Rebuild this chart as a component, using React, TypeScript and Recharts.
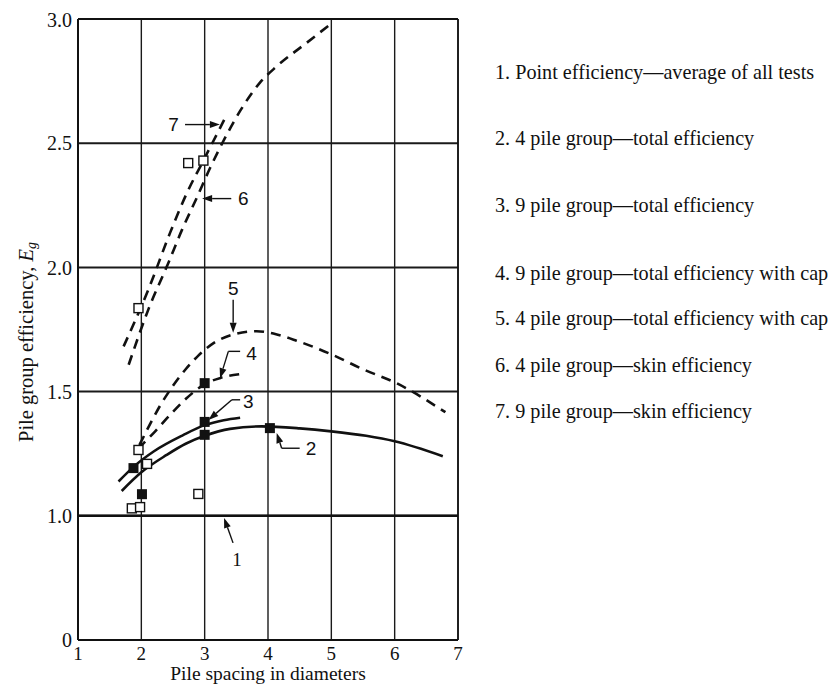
import { CartesianGrid, ComposedChart, Line, ReferenceDot, ReferenceLine, Scatter, XAxis, YAxis } from "recharts"

const xTicks = [1, 2, 3, 4, 5, 6, 7]
const yTicks = [0, 1.0, 1.5, 2.0, 2.5, 3.0]
const yTickLabels = ["0", "1.0", "1.5", "2.0", "2.5", "3.0"]

// [pile spacing, efficiency]
const curve1 = [[1, 1.0], [7, 1.0]]
const curve2 = [[1.69, 1.1], [2.0, 1.175], [2.4, 1.245], [2.7, 1.29], [3.0, 1.322], [3.4, 1.35], [3.9, 1.36], [4.5, 1.352], [5.0, 1.34], [5.55, 1.322], [6.0, 1.3], [6.76, 1.24]]
const curve3 = [[1.64, 1.138], [1.88, 1.198], [2.2, 1.26], [2.66, 1.325], [3.0, 1.365], [3.3, 1.385], [3.56, 1.395]]
const curve4 = [[1.95, 1.27], [2.2, 1.335], [2.45, 1.405], [2.7, 1.47], [3.0, 1.53], [3.25, 1.555], [3.55, 1.57]]
const curve5 = [[1.97, 1.285], [2.15, 1.375], [2.3, 1.445], [2.45, 1.505], [2.7, 1.59], [2.9, 1.645], [3.14, 1.695], [3.45, 1.73], [3.82, 1.743], [4.14, 1.73], [4.45, 1.705], [5.0, 1.65], [5.5, 1.59], [6.02, 1.535], [6.8, 1.417]]
const curve6 = [[1.8, 1.608], [2.11, 1.83], [2.43, 2.02], [2.64, 2.15], [2.875, 2.28], [3.085, 2.4], [3.35, 2.535], [3.56, 2.63], [3.87, 2.743], [4.14, 2.81], [4.61, 2.904], [4.98, 2.978]]
const curve7 = [[1.72, 1.682], [2.11, 1.91], [2.455, 2.14], [2.72, 2.3], [2.98, 2.43], [3.19, 2.535], [3.35, 2.615]]

const openSquares = [[1.85, 1.03], [1.98, 1.035], [1.955, 1.265], [2.09, 1.209], [1.955, 1.836], [2.9, 1.088], [2.74, 2.42], [2.98, 2.43]]
const filledSquares = [[1.876, 1.192], [2.01, 1.087], [3.0, 1.534], [3.0, 1.378], [3.0, 1.326], [4.03, 1.353]]

const legendItems = [
  "1. Point efficiency\u2014average of all tests",
  "2. 4 pile group\u2014total efficiency",
  "3. 9 pile group\u2014total efficiency",
  "4. 9 pile group\u2014total efficiency with cap",
  "5. 4 pile group\u2014total efficiency with cap",
  "6. 4 pile group\u2014skin efficiency",
  "7. 9 pile group\u2014skin efficiency",
]
const legendRows = [72, 138, 205, 273, 318, 365, 411]

// curve numbers with their leaders (last leg ends in an arrowhead)
const callouts = [
  { label: "7", at: [2.51, 2.575], path: [[2.69, 2.575], [3.24, 2.575]] },
  { label: "6", at: [3.61, 2.277], path: [[3.42, 2.277], [2.96, 2.277]] },
  { label: "5", at: [3.45, 1.917], path: [[3.45, 1.87], [3.45, 1.737]] },
  { label: "4", at: [3.74, 1.655], path: [[3.56, 1.662], [3.374, 1.662], [3.243, 1.554]] },
  { label: "3", at: [3.69, 1.46], path: [[3.56, 1.467], [3.43, 1.467], [3.06, 1.386]] },
  { label: "2", at: [4.68, 1.272], path: [[4.5, 1.272], [4.216, 1.272], [4.137, 1.333]] },
  { label: "1", at: [3.51, 0.645], path: [[3.448, 0.782], [3.306, 0.983]] },
]

// the axis is broken below 1.0: 0..1.0 takes the height of one 0.5 step
const toY = (v: number) => (v >= 1 ? v - 0.5 : v / 2)
const pts = (arr: number[][]) => arr.map(([x, v]) => ({ x, y: toY(v) }))

const INK = "#111"
const SERIF = "'Liberation Serif', 'Times New Roman', serif"

const OpenSquare = (p: any) => (
  <rect x={p.cx - 4.5} y={p.cy - 4.5} width={9} height={9} fill="#fff" stroke={INK} strokeWidth={1.4} />
)
const FilledSquare = (p: any) => <rect x={p.cx - 5} y={p.cy - 5} width={10} height={10} fill={INK} />

const Leader = (arrow: boolean) => (p: any) => {
  const { x1, y1, x2, y2 } = p
  if (!arrow) return <line x1={x1} y1={y1} x2={x2} y2={y2} stroke={INK} strokeWidth={1.4} />
  const a = Math.atan2(y2 - y1, x2 - x1)
  const bx = x2 - 10 * Math.cos(a)
  const by = y2 - 10 * Math.sin(a)
  const w = 3.5
  const head = `${x2},${y2} ${bx - w * Math.sin(a)},${by + w * Math.cos(a)} ${bx + w * Math.sin(a)},${by - w * Math.cos(a)}`
  return (
    <g>
      <line x1={x1} y1={y1} x2={bx} y2={by} stroke={INK} strokeWidth={1.4} />
      <polygon points={head} fill={INK} />
    </g>
  )
}

const curveStyle = { stroke: INK, strokeWidth: 2.6, dot: false, activeDot: false, isAnimationActive: false, type: "monotone" as const }
const dash = "10 7"

export default function App() {
  return (
    <div style={{ position: "relative", width: 824, height: 678, fontFamily: SERIF }}>
      <ComposedChart width={460} height={678} margin={{ top: 11, right: 10, bottom: 3, left: 0 }}>
        <CartesianGrid stroke="#1a1a1a" strokeWidth={2} vertical={false} />
        <CartesianGrid stroke="#1a1a1a" strokeWidth={1.4} horizontal={false} />
        <XAxis
          dataKey="x"
          type="number"
          domain={[1, 7]}
          ticks={xTicks}
          allowDataOverflow
          height={43}
          tickSize={0}
          tickMargin={7}
          axisLine={{ stroke: INK, strokeWidth: 2 }}
          tick={{ fill: INK, fontSize: 19, fontFamily: SERIF }}
          label={(props: any) => {
            const vb = props.viewBox
            return (
              <text x={vb.x + vb.width / 2} y={vb.y + 40} textAnchor="middle" fontSize={19.5} fontFamily={SERIF} fill={INK}>
                Pile spacing in diameters
              </text>
            )
          }}
        />
        <YAxis
          dataKey="y"
          type="number"
          domain={[0, toY(3)]}
          ticks={yTicks.map(toY)}
          tickFormatter={(v: number) => yTickLabels[yTicks.map(toY).indexOf(v)] ?? ""}
          allowDataOverflow
          width={70}
          tickSize={0}
          tickMargin={6}
          axisLine={{ stroke: INK, strokeWidth: 2 }}
          tick={{ fill: INK, fontSize: 20, fontFamily: SERIF }}
          label={(props: any) => {
            const vb = props.viewBox
            const cx = 18
            const cy = vb.y + 323
            return (
              <text x={cx} y={cy} transform={`rotate(-90, ${cx}, ${cy})`} textAnchor="middle" dominantBaseline="central" fontSize={20.5} fontFamily={SERIF} fill={INK}>
                Pile group efficiency, <tspan fontStyle="italic">E</tspan>
                <tspan fontStyle="italic" fontSize={14} dy={5}>g</tspan>
              </text>
            )
          }}
        />
        <ReferenceLine x={7} stroke={INK} strokeWidth={1.6} />
        <ReferenceLine y={toY(3)} stroke={INK} strokeWidth={2} />

        <Line data={pts(curve1)} dataKey="y" {...curveStyle} strokeWidth={2.4} type="linear" />
        <Line data={pts(curve2)} dataKey="y" {...curveStyle} />
        <Line data={pts(curve3)} dataKey="y" {...curveStyle} />
        <Line data={pts(curve4)} dataKey="y" {...curveStyle} strokeDasharray={dash} />
        <Line data={pts(curve5)} dataKey="y" {...curveStyle} strokeDasharray={dash} />
        <Line data={pts(curve6)} dataKey="y" {...curveStyle} strokeDasharray={dash} />
        <Line data={pts(curve7)} dataKey="y" {...curveStyle} strokeDasharray={dash} />

        <Scatter data={pts(openSquares)} dataKey="y" shape={OpenSquare} isAnimationActive={false} />
        <Scatter data={pts(filledSquares)} dataKey="y" shape={FilledSquare} isAnimationActive={false} />

        {callouts.map((c) =>
          c.path.slice(1).map((q, i) => (
            <ReferenceLine
              key={`${c.label}-${i}`}
              ifOverflow="visible"
              segment={[
                { x: c.path[i][0], y: toY(c.path[i][1]) },
                { x: q[0], y: toY(q[1]) },
              ]}
              shape={Leader(i === c.path.length - 2)}
            />
          ))
        )}
        {callouts.map((c) => (
          <ReferenceDot
            key={`t-${c.label}`}
            x={c.at[0]}
            y={toY(c.at[1])}
            ifOverflow="visible"
            shape={(p: any) => (
              <text
                x={p.cx}
                y={p.cy}
                textAnchor="middle"
                dominantBaseline="central"
                fontSize={19}
                fontFamily={c.label === "1" ? SERIF : "'Liberation Sans', Arial, sans-serif"}
                fill={INK}
              >
                {c.label}
              </text>
            )}
          />
        ))}
      </ComposedChart>
      {legendItems.map((t, i) => (
        <div
          key={t}
          style={{
            position: "absolute",
            left: 487,
            top: legendRows[i] - 8 - 13,
            height: 26,
            lineHeight: "26px",
            fontSize: 20.2,
            color: INK,
            whiteSpace: "nowrap",
          }}
        >
          {t}
        </div>
      ))}
    </div>
  )
}
